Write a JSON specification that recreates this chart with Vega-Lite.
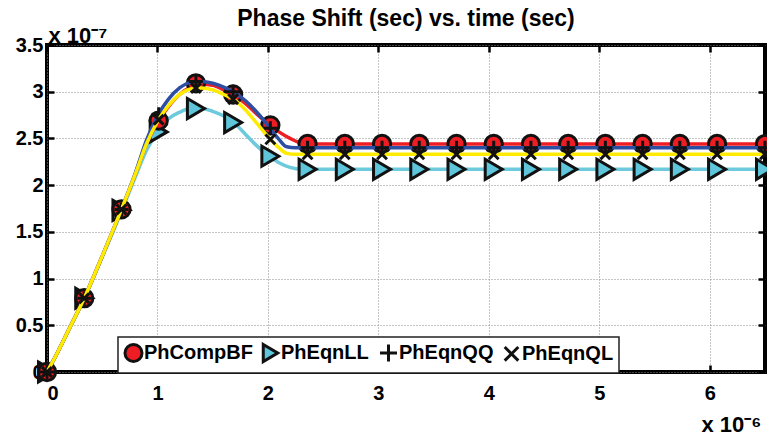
{
  "$schema": "https://vega.github.io/schema/vega-lite/v6.json",
  "width": 718,
  "height": 327,
  "autosize": {"type": "none"},
  "padding": {"left": 47, "top": 45, "right": 2, "bottom": 64},
  "background": "white",
  "title": {"text": "Phase Shift (sec) vs. time (sec)", "font": "Liberation Sans", "fontWeight": "bold", "fontSize": 23, "color": "black", "anchor": "middle", "frame": "group", "baseline": "bottom", "offset": 16, "dy": 46},
  "datasets": {
    "lines": [
      {"s": "PhEqnLL", "t": 0, "v": 0}, {"s": "PhEqnLL", "t": 0.1, "v": 0.22}, {"s": "PhEqnLL", "t": 0.2, "v": 0.46}, {"s": "PhEqnLL", "t": 0.337, "v": 0.79}, {"s": "PhEqnLL", "t": 0.5, "v": 1.23}, {"s": "PhEqnLL", "t": 0.674, "v": 1.72}, {"s": "PhEqnLL", "t": 0.8, "v": 2.09}, {"s": "PhEqnLL", "t": 0.9, "v": 2.37}, {"s": "PhEqnLL", "t": 1.0, "v": 2.57}, {"s": "PhEqnLL", "t": 1.1, "v": 2.71}, {"s": "PhEqnLL", "t": 1.2, "v": 2.78}, {"s": "PhEqnLL", "t": 1.3, "v": 2.82}, {"s": "PhEqnLL", "t": 1.4, "v": 2.82}, {"s": "PhEqnLL", "t": 1.5, "v": 2.79}, {"s": "PhEqnLL", "t": 1.6, "v": 2.74}, {"s": "PhEqnLL", "t": 1.7, "v": 2.66}, {"s": "PhEqnLL", "t": 1.8, "v": 2.54}, {"s": "PhEqnLL", "t": 1.9, "v": 2.42}, {"s": "PhEqnLL", "t": 2.0, "v": 2.32}, {"s": "PhEqnLL", "t": 2.1, "v": 2.24}, {"s": "PhEqnLL", "t": 2.2, "v": 2.19}, {"s": "PhEqnLL", "t": 2.3, "v": 2.17}, {"s": "PhEqnLL", "t": 6.5, "v": 2.17},
      {"s": "PhCompBF", "t": 0, "v": 0}, {"s": "PhCompBF", "t": 0.1, "v": 0.22}, {"s": "PhCompBF", "t": 0.2, "v": 0.46}, {"s": "PhCompBF", "t": 0.337, "v": 0.79}, {"s": "PhCompBF", "t": 0.5, "v": 1.24}, {"s": "PhCompBF", "t": 0.674, "v": 1.74}, {"s": "PhCompBF", "t": 0.8, "v": 2.12}, {"s": "PhCompBF", "t": 0.9, "v": 2.44}, {"s": "PhCompBF", "t": 1.0, "v": 2.67}, {"s": "PhCompBF", "t": 1.1, "v": 2.84}, {"s": "PhCompBF", "t": 1.2, "v": 2.97}, {"s": "PhCompBF", "t": 1.3, "v": 3.05}, {"s": "PhCompBF", "t": 1.4, "v": 3.08}, {"s": "PhCompBF", "t": 1.5, "v": 3.07}, {"s": "PhCompBF", "t": 1.6, "v": 3.02}, {"s": "PhCompBF", "t": 1.7, "v": 2.96}, {"s": "PhCompBF", "t": 1.8, "v": 2.87}, {"s": "PhCompBF", "t": 1.9, "v": 2.76}, {"s": "PhCompBF", "t": 2.0, "v": 2.66}, {"s": "PhCompBF", "t": 2.1, "v": 2.57}, {"s": "PhCompBF", "t": 2.2, "v": 2.5}, {"s": "PhCompBF", "t": 2.3, "v": 2.45}, {"s": "PhCompBF", "t": 2.38, "v": 2.44}, {"s": "PhCompBF", "t": 6.5, "v": 2.44},
      {"s": "PhEqnQQ", "t": 0, "v": 0}, {"s": "PhEqnQQ", "t": 0.1, "v": 0.22}, {"s": "PhEqnQQ", "t": 0.2, "v": 0.46}, {"s": "PhEqnQQ", "t": 0.337, "v": 0.79}, {"s": "PhEqnQQ", "t": 0.5, "v": 1.24}, {"s": "PhEqnQQ", "t": 0.674, "v": 1.74}, {"s": "PhEqnQQ", "t": 0.8, "v": 2.13}, {"s": "PhEqnQQ", "t": 0.9, "v": 2.48}, {"s": "PhEqnQQ", "t": 1.0, "v": 2.74}, {"s": "PhEqnQQ", "t": 1.1, "v": 2.92}, {"s": "PhEqnQQ", "t": 1.2, "v": 3.04}, {"s": "PhEqnQQ", "t": 1.3, "v": 3.1}, {"s": "PhEqnQQ", "t": 1.4, "v": 3.11}, {"s": "PhEqnQQ", "t": 1.5, "v": 3.09}, {"s": "PhEqnQQ", "t": 1.6, "v": 3.05}, {"s": "PhEqnQQ", "t": 1.7, "v": 2.99}, {"s": "PhEqnQQ", "t": 1.8, "v": 2.9}, {"s": "PhEqnQQ", "t": 1.9, "v": 2.78}, {"s": "PhEqnQQ", "t": 2.0, "v": 2.64}, {"s": "PhEqnQQ", "t": 2.1, "v": 2.49}, {"s": "PhEqnQQ", "t": 2.17, "v": 2.41}, {"s": "PhEqnQQ", "t": 2.25, "v": 2.4}, {"s": "PhEqnQQ", "t": 6.5, "v": 2.4},
      {"s": "PhEqnQL", "t": 0, "v": 0}, {"s": "PhEqnQL", "t": 0.1, "v": 0.22}, {"s": "PhEqnQL", "t": 0.2, "v": 0.46}, {"s": "PhEqnQL", "t": 0.337, "v": 0.79}, {"s": "PhEqnQL", "t": 0.5, "v": 1.24}, {"s": "PhEqnQL", "t": 0.674, "v": 1.74}, {"s": "PhEqnQL", "t": 0.8, "v": 2.12}, {"s": "PhEqnQL", "t": 0.9, "v": 2.44}, {"s": "PhEqnQL", "t": 1.0, "v": 2.68}, {"s": "PhEqnQL", "t": 1.1, "v": 2.85}, {"s": "PhEqnQL", "t": 1.2, "v": 2.97}, {"s": "PhEqnQL", "t": 1.3, "v": 3.03}, {"s": "PhEqnQL", "t": 1.4, "v": 3.04}, {"s": "PhEqnQL", "t": 1.5, "v": 3.02}, {"s": "PhEqnQL", "t": 1.6, "v": 2.97}, {"s": "PhEqnQL", "t": 1.7, "v": 2.91}, {"s": "PhEqnQL", "t": 1.8, "v": 2.8}, {"s": "PhEqnQL", "t": 1.9, "v": 2.66}, {"s": "PhEqnQL", "t": 2.0, "v": 2.52}, {"s": "PhEqnQL", "t": 2.1, "v": 2.4}, {"s": "PhEqnQL", "t": 2.17, "v": 2.34}, {"s": "PhEqnQL", "t": 2.25, "v": 2.33}, {"s": "PhEqnQL", "t": 6.5, "v": 2.33}
    ],
    "markers": [
      {"s": "PhEqnLL", "t": 0, "v": 0}, {"s": "PhEqnLL", "t": 0.337, "v": 0.79}, {"s": "PhEqnLL", "t": 0.674, "v": 1.73}, {"s": "PhEqnLL", "t": 1.011, "v": 2.57}, {"s": "PhEqnLL", "t": 1.348, "v": 2.82}, {"s": "PhEqnLL", "t": 1.685, "v": 2.67}, {"s": "PhEqnLL", "t": 2.022, "v": 2.31}, {"s": "PhEqnLL", "t": 2.359, "v": 2.17}, {"s": "PhEqnLL", "t": 2.696, "v": 2.17}, {"s": "PhEqnLL", "t": 3.033, "v": 2.17}, {"s": "PhEqnLL", "t": 3.37, "v": 2.17}, {"s": "PhEqnLL", "t": 3.707, "v": 2.17}, {"s": "PhEqnLL", "t": 4.044, "v": 2.17}, {"s": "PhEqnLL", "t": 4.381, "v": 2.17}, {"s": "PhEqnLL", "t": 4.718, "v": 2.17}, {"s": "PhEqnLL", "t": 5.055, "v": 2.17}, {"s": "PhEqnLL", "t": 5.392, "v": 2.17}, {"s": "PhEqnLL", "t": 5.729, "v": 2.17}, {"s": "PhEqnLL", "t": 6.066, "v": 2.17}, {"s": "PhEqnLL", "t": 6.5, "v": 2.17},
      {"s": "PhCompBF", "t": 0, "v": 0}, {"s": "PhCompBF", "t": 0.337, "v": 0.79}, {"s": "PhCompBF", "t": 0.674, "v": 1.74}, {"s": "PhCompBF", "t": 1.011, "v": 2.69}, {"s": "PhCompBF", "t": 1.348, "v": 3.09}, {"s": "PhCompBF", "t": 1.685, "v": 2.97}, {"s": "PhCompBF", "t": 2.022, "v": 2.64}, {"s": "PhCompBF", "t": 2.359, "v": 2.44}, {"s": "PhCompBF", "t": 2.696, "v": 2.44}, {"s": "PhCompBF", "t": 3.033, "v": 2.44}, {"s": "PhCompBF", "t": 3.37, "v": 2.44}, {"s": "PhCompBF", "t": 3.707, "v": 2.44}, {"s": "PhCompBF", "t": 4.044, "v": 2.44}, {"s": "PhCompBF", "t": 4.381, "v": 2.44}, {"s": "PhCompBF", "t": 4.718, "v": 2.44}, {"s": "PhCompBF", "t": 5.055, "v": 2.44}, {"s": "PhCompBF", "t": 5.392, "v": 2.44}, {"s": "PhCompBF", "t": 5.729, "v": 2.44}, {"s": "PhCompBF", "t": 6.066, "v": 2.44}, {"s": "PhCompBF", "t": 6.5, "v": 2.44},
      {"s": "PhEqnQQ", "t": 0, "v": 0}, {"s": "PhEqnQQ", "t": 0.337, "v": 0.79}, {"s": "PhEqnQQ", "t": 0.674, "v": 1.74}, {"s": "PhEqnQQ", "t": 1.011, "v": 2.76}, {"s": "PhEqnQQ", "t": 1.348, "v": 3.11}, {"s": "PhEqnQQ", "t": 1.685, "v": 3.0}, {"s": "PhEqnQQ", "t": 2.022, "v": 2.61}, {"s": "PhEqnQQ", "t": 2.359, "v": 2.4}, {"s": "PhEqnQQ", "t": 2.696, "v": 2.4}, {"s": "PhEqnQQ", "t": 3.033, "v": 2.4}, {"s": "PhEqnQQ", "t": 3.37, "v": 2.4}, {"s": "PhEqnQQ", "t": 3.707, "v": 2.4}, {"s": "PhEqnQQ", "t": 4.044, "v": 2.4}, {"s": "PhEqnQQ", "t": 4.381, "v": 2.4}, {"s": "PhEqnQQ", "t": 4.718, "v": 2.4}, {"s": "PhEqnQQ", "t": 5.055, "v": 2.4}, {"s": "PhEqnQQ", "t": 5.392, "v": 2.4}, {"s": "PhEqnQQ", "t": 5.729, "v": 2.4}, {"s": "PhEqnQQ", "t": 6.066, "v": 2.4}, {"s": "PhEqnQQ", "t": 6.5, "v": 2.4},
      {"s": "PhEqnQL", "t": 0, "v": 0}, {"s": "PhEqnQL", "t": 0.337, "v": 0.79}, {"s": "PhEqnQL", "t": 0.674, "v": 1.74}, {"s": "PhEqnQL", "t": 1.011, "v": 2.7}, {"s": "PhEqnQL", "t": 1.348, "v": 3.04}, {"s": "PhEqnQL", "t": 1.685, "v": 2.92}, {"s": "PhEqnQL", "t": 2.022, "v": 2.49}, {"s": "PhEqnQL", "t": 2.359, "v": 2.33}, {"s": "PhEqnQL", "t": 2.696, "v": 2.33}, {"s": "PhEqnQL", "t": 3.033, "v": 2.33}, {"s": "PhEqnQL", "t": 3.37, "v": 2.33}, {"s": "PhEqnQL", "t": 3.707, "v": 2.33}, {"s": "PhEqnQL", "t": 4.044, "v": 2.33}, {"s": "PhEqnQL", "t": 4.381, "v": 2.33}, {"s": "PhEqnQL", "t": 4.718, "v": 2.33}, {"s": "PhEqnQL", "t": 5.055, "v": 2.33}, {"s": "PhEqnQL", "t": 5.392, "v": 2.33}, {"s": "PhEqnQL", "t": 5.729, "v": 2.33}, {"s": "PhEqnQL", "t": 6.066, "v": 2.33}, {"s": "PhEqnQL", "t": 6.5, "v": 2.33}
    ]
  },
  "layer": [
    {
      "data": {"name": "lines"},
      "transform": [{"filter": "datum.s === 'PhEqnLL'"}],
      "mark": {"type": "line", "color": "#6CCADC", "strokeWidth": 3.5, "interpolate": "monotone"},
      "encoding": {
        "x": {"field": "t", "type": "quantitative", "scale": {"domain": [0, 6.5], "nice": false, "zero": false},
          "axis": {"orient": "bottom", "values": [0, 1, 2, 3, 4, 5, 6], "format": "~g", "grid": true, "domain": false, "tickSize": -7, "labelPadding": 18, "title": "x 10⁻⁶", "titleAngle": 0, "titleAlign": "left", "titleBaseline": "alphabetic", "titleX": 654, "titleY": 59}},
        "y": {"field": "v", "type": "quantitative", "scale": {"domain": [0, 3.5], "nice": false, "zero": false},
          "axis": {"orient": "left", "values": [0, 0.5, 1, 1.5, 2, 2.5, 3, 3.5], "format": "~g", "grid": true, "domain": false, "tickSize": -7, "labelPadding": 11, "title": "x 10⁻⁷", "titleAngle": 0, "titleAlign": "left", "titleBaseline": "alphabetic", "titleX": 1, "titleY": -3}}
      }
    },
    {
      "data": {"name": "markers"},
      "transform": [{"filter": "datum.s === 'PhEqnLL'"}],
      "mark": {"type": "point", "filled": false, "size": 400, "opacity": 1, "strokeWidth": 3},
      "encoding": {
        "x": {"field": "t", "type": "quantitative", "axis": null},
        "y": {"field": "v", "type": "quantitative", "axis": null},
        "stroke": {"field": "s", "type": "nominal", "scale": {"domain": ["PhCompBF", "PhEqnLL", "PhEqnQQ", "PhEqnQL"], "range": ["#111111", "#111111", "#111111", "#111111"]},
          "legend": {"title": null, "orient": "none", "legendX": 71, "legendY": 292, "direction": "horizontal", "symbolStrokeWidth": 3, "symbolSize": 290, "symbolOpacity": 1}},
        "shape": {"field": "s", "type": "nominal", "scale": {"domain": ["PhCompBF", "PhEqnLL", "PhEqnQQ", "PhEqnQL"], "range": ["circle", "M-0.85,-1L0.85,0L-0.85,1Z", "M-1,0L1,0M0,-1L0,1", "M-0.8,-0.8L0.8,0.8M-0.8,0.8L0.8,-0.8"]},
          "legend": {"title": null, "orient": "none", "legendX": 71, "legendY": 292, "direction": "horizontal", "symbolStrokeWidth": 3, "symbolSize": 290, "symbolOpacity": 1}},
        "fill": {"field": "s", "type": "nominal", "scale": {"domain": ["PhCompBF", "PhEqnLL", "PhEqnQQ", "PhEqnQL"], "range": ["#EE1D23", "#5EC5DA", "transparent", "transparent"]},
          "legend": {"title": null, "orient": "none", "legendX": 71, "legendY": 292, "direction": "horizontal", "symbolStrokeWidth": 3, "symbolSize": 290, "symbolOpacity": 1}}
      }
    },
    {
      "data": {"name": "lines"},
      "transform": [{"filter": "datum.s === 'PhCompBF'"}],
      "mark": {"type": "line", "color": "#EE1D23", "strokeWidth": 3.5, "interpolate": "monotone"},
      "encoding": {
        "x": {"field": "t", "type": "quantitative", "axis": null},
        "y": {"field": "v", "type": "quantitative", "axis": null}
      }
    },
    {
      "data": {"name": "markers"},
      "transform": [{"filter": "datum.s === 'PhCompBF'"}],
      "mark": {"type": "point", "filled": false, "size": 300, "opacity": 1, "strokeWidth": 3},
      "encoding": {
        "x": {"field": "t", "type": "quantitative", "axis": null},
        "y": {"field": "v", "type": "quantitative", "axis": null},
        "stroke": {"field": "s", "type": "nominal", "legend": {"title": null, "orient": "none", "legendX": 71, "legendY": 292, "direction": "horizontal", "symbolStrokeWidth": 3, "symbolSize": 290, "symbolOpacity": 1}},
        "shape": {"field": "s", "type": "nominal", "legend": {"title": null, "orient": "none", "legendX": 71, "legendY": 292, "direction": "horizontal", "symbolStrokeWidth": 3, "symbolSize": 290, "symbolOpacity": 1}},
        "fill": {"field": "s", "type": "nominal", "legend": {"title": null, "orient": "none", "legendX": 71, "legendY": 292, "direction": "horizontal", "symbolStrokeWidth": 3, "symbolSize": 290, "symbolOpacity": 1}}
      }
    },
    {
      "data": {"name": "lines"},
      "transform": [{"filter": "datum.s === 'PhEqnQQ'"}],
      "mark": {"type": "line", "color": "#2D4FA3", "strokeWidth": 3.5, "interpolate": "monotone"},
      "encoding": {
        "x": {"field": "t", "type": "quantitative", "axis": null},
        "y": {"field": "v", "type": "quantitative", "axis": null}
      }
    },
    {
      "data": {"name": "markers"},
      "transform": [{"filter": "datum.s === 'PhEqnQQ'"}],
      "mark": {"type": "point", "filled": false, "size": 196, "opacity": 1, "strokeWidth": 3},
      "encoding": {
        "x": {"field": "t", "type": "quantitative", "axis": null},
        "y": {"field": "v", "type": "quantitative", "axis": null},
        "stroke": {"field": "s", "type": "nominal", "legend": {"title": null, "orient": "none", "legendX": 71, "legendY": 292, "direction": "horizontal", "symbolStrokeWidth": 3, "symbolSize": 290, "symbolOpacity": 1}},
        "shape": {"field": "s", "type": "nominal", "legend": {"title": null, "orient": "none", "legendX": 71, "legendY": 292, "direction": "horizontal", "symbolStrokeWidth": 3, "symbolSize": 290, "symbolOpacity": 1}},
        "fill": {"field": "s", "type": "nominal", "legend": {"title": null, "orient": "none", "legendX": 71, "legendY": 292, "direction": "horizontal", "symbolStrokeWidth": 3, "symbolSize": 290, "symbolOpacity": 1}}
      }
    },
    {
      "data": {"name": "lines"},
      "transform": [{"filter": "datum.s === 'PhEqnQL'"}],
      "mark": {"type": "line", "color": "#FFEB00", "strokeWidth": 3.5, "interpolate": "monotone"},
      "encoding": {
        "x": {"field": "t", "type": "quantitative", "axis": {"orient": "top", "values": [0, 1, 2, 3, 4, 5, 6], "labels": false, "grid": false, "domain": false, "tickSize": -7, "title": null}},
        "y": {"field": "v", "type": "quantitative", "axis": {"orient": "right", "values": [0, 0.5, 1, 1.5, 2, 2.5, 3, 3.5], "labels": false, "grid": false, "domain": false, "tickSize": -7, "title": null}}
      }
    },
    {
      "data": {"name": "markers"},
      "transform": [{"filter": "datum.s === 'PhEqnQL'"}],
      "mark": {"type": "point", "filled": false, "size": 150, "opacity": 1, "strokeWidth": 3},
      "encoding": {
        "x": {"field": "t", "type": "quantitative", "axis": null},
        "y": {"field": "v", "type": "quantitative", "axis": null},
        "stroke": {"field": "s", "type": "nominal", "legend": {"title": null, "orient": "none", "legendX": 71, "legendY": 292, "direction": "horizontal", "symbolStrokeWidth": 3, "symbolSize": 290, "symbolOpacity": 1}},
        "shape": {"field": "s", "type": "nominal", "legend": {"title": null, "orient": "none", "legendX": 71, "legendY": 292, "direction": "horizontal", "symbolStrokeWidth": 3, "symbolSize": 290, "symbolOpacity": 1}},
        "fill": {"field": "s", "type": "nominal", "legend": {"title": null, "orient": "none", "legendX": 71, "legendY": 292, "direction": "horizontal", "symbolStrokeWidth": 3, "symbolSize": 290, "symbolOpacity": 1}}
      }
    }
  ],
  "resolve": {"axis": {"x": "independent", "y": "independent"}},
  "config": {
    "view": {"stroke": "black", "strokeWidth": 4},
    "axis": {"labelFont": "Liberation Sans", "labelFontWeight": "bold", "labelFontSize": 20, "labelColor": "black", "tickColor": "black", "tickWidth": 2.5, "gridColor": "#8a8a8a", "gridDash": [1, 2], "gridWidth": 1, "gridOpacity": 1, "titleFont": "Liberation Sans", "titleFontWeight": "bold", "titleFontSize": 22, "titleColor": "black"},
    "legend": {"fillColor": "white", "strokeColor": "#222222", "strokeWidth": 1.5, "padding": 5, "labelFont": "Liberation Sans", "labelFontWeight": "bold", "labelFontSize": 20, "labelColor": "black", "symbolSize": 290, "symbolStrokeWidth": 3, "columnPadding": 4, "labelOffset": 0, "cornerRadius": 0, "labelLimit": 300}
  }
}
